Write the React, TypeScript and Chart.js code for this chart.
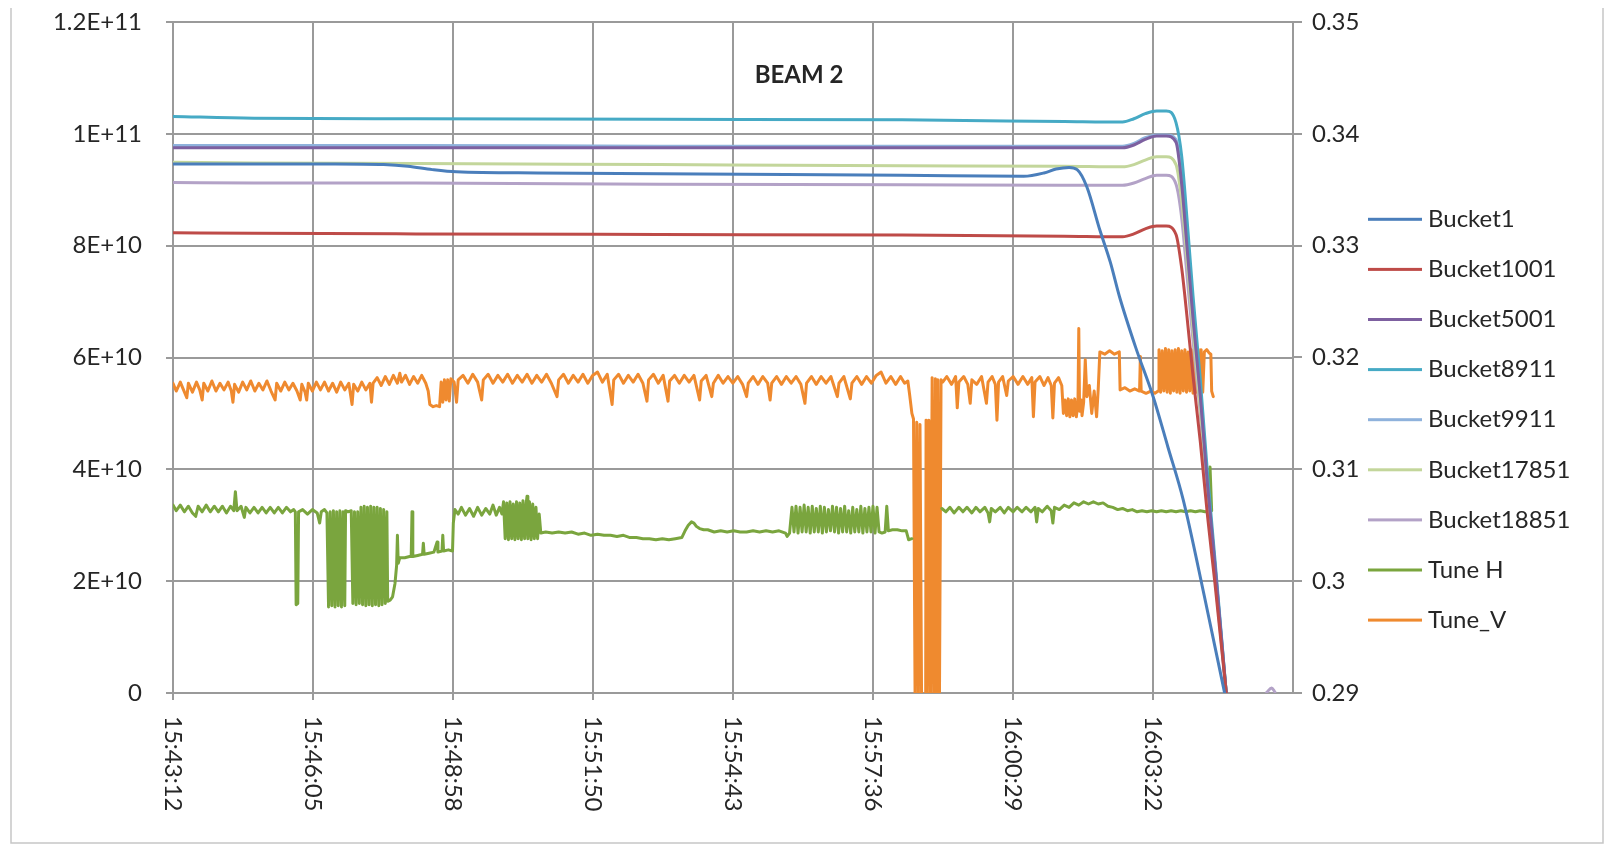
import React, { useEffect, useRef } from 'react';
import { Chart, registerables } from 'chart.js';

Chart.register(...registerables);

// ---------- texts ----------
const chartTitle = 'BEAM 2';
const seriesNames = ['Bucket1', 'Bucket1001', 'Bucket5001', 'Bucket8911', 'Bucket9911', 'Bucket17851', 'Bucket18851', 'Tune H', 'Tune_V'];
const seriesColors = ['#4A7EBB', '#BE4B48', '#7D60A0', '#46AAC5', '#8FB2DC', '#C3D69B', '#B3A2C7', '#7AA53E', '#EF8A2F'];

// x axis: seconds after 15:43:12
const xTickSeconds = [0, 172.8, 345.6, 518.4, 691.2, 864, 1036.8, 1209.6];
const xTickLabels = ['15:43:12', '15:46:05', '15:48:58', '15:51:50', '15:54:43', '15:57:36', '16:00:29', '16:03:22'];
const xMaxSeconds = 1382.4;

const leftTicks = [0, 2e10, 4e10, 6e10, 8e10, 1e11, 1.2e11];
const leftTickLabels = ['0', '2E+10', '4E+10', '6E+10', '8E+10', '1E+11', '1.2E+11'];
const rightTicks = [0.29, 0.3, 0.31, 0.32, 0.33, 0.34, 0.35];
const rightTickLabels = ['0.29', '0.3', '0.31', '0.32', '0.33', '0.34', '0.35'];

// ---------- bucket intensities (units of 1E+10) ----------
const bucket1: number[][] = [
  [0, 9.46], [100, 9.46], [200, 9.46], [260, 9.45], [290, 9.42], [320, 9.36], [350, 9.32], [450, 9.30],
  [650, 9.28], [900, 9.26], [1050, 9.24], [1075, 9.30], [1090, 9.37], [1106, 9.40], [1116, 9.36],
  [1128, 9.05], [1144, 8.28], [1157, 7.7], [1168, 7.1], [1188, 6.19], [1210, 5.29], [1228, 4.4],
  [1247, 3.45], [1273, 1.73], [1298, 0],
];
const bucketTimes = [0, 100, 300, 600, 900, 1100, 1172, 1186, 1200, 1214, 1226, 1238, 1245, 1252, 1259, 1268, 1277, 1286, 1300];
const bucket1001 = [8.23, 8.22, 8.21, 8.20, 8.19, 8.17, 8.16, 8.21, 8.30, 8.35, 8.35, 8.20, 7.60, 6.67, 5.67, 4.49, 3.15, 1.97, 0];
const bucket5001 = [9.75, 9.75, 9.75, 9.75, 9.75, 9.75, 9.75, 9.80, 9.90, 9.96, 9.96, 9.85, 9.10, 7.90, 6.70, 5.30, 3.70, 2.30, 0];
const bucket8911 = [10.31, 10.28, 10.27, 10.26, 10.25, 10.22, 10.21, 10.27, 10.36, 10.41, 10.41, 10.20, 9.60, 8.40, 7.10, 5.60, 3.90, 2.40, 0];
const bucket9911 = [9.79, 9.79, 9.79, 9.78, 9.78, 9.78, 9.78, 9.83, 9.93, 9.98, 9.98, 9.90, 9.20, 8.00, 6.80, 5.35, 3.75, 2.30, 0];
const bucket17851 = [9.49, 9.48, 9.47, 9.45, 9.43, 9.42, 9.41, 9.45, 9.53, 9.59, 9.59, 9.45, 8.80, 7.70, 6.50, 5.10, 3.60, 2.20, 0];
const bucket18851 = [9.13, 9.12, 9.12, 9.10, 9.09, 9.08, 9.08, 9.12, 9.20, 9.26, 9.26, 9.10, 8.50, 7.40, 6.30, 5.00, 3.50, 2.10, 0];
// small late blip of Bucket18851 after the dump [seconds, value]
const bucket18851Tail: (number | null)[][] = [[1325, null], [1350, 0.01], [1356, 0.09], [1360, 0.02]];
const BUCKET_UNIT = 1e10;

// ---------- tunes [seconds, tune] ----------
const tuneH: (number | null)[][] = [
  [0, 0.3068], [4, 0.3063], [9, 0.3068], [14, 0.3062], [19, 0.3067], [24, 0.3061], [28, 0.3058], [31, 0.3067], [36, 0.3062],
  [41, 0.3068], [46, 0.3062], [51, 0.3067], [56, 0.3062], [61, 0.3067], [66, 0.3061], [71, 0.3067], [75, 0.3063], [77, 0.3080],
  [79, 0.3063], [84, 0.3067], [88, 0.3057], [90, 0.3066], [95, 0.3061], [100, 0.3066], [105, 0.3061], [110, 0.3066], [115, 0.3061],
  [120, 0.3066], [125, 0.3061], [130, 0.3066], [135, 0.3061], [140, 0.3066], [145, 0.3062], [149, 0.3064],
  [151, 0.3062], [152, 0.2979], [154, 0.2980], [155, 0.3062],
  [160, 0.3064], [166, 0.3060], [172, 0.3064], [178, 0.3061], [181, 0.3052], [183, 0.3062], [187, 0.3064], [190, 0.3061],
  [192, 0.2977], [194, 0.3062], [196, 0.2978], [198, 0.3063], [200, 0.2977], [202, 0.3062], [204, 0.2978], [206, 0.3063],
  [208, 0.2977], [210, 0.3062], [212, 0.2978], [213, 0.3063], [216, 0.3062], [220, 0.3063],
  [222, 0.2980], [224, 0.3062], [226, 0.2979], [228, 0.3062], [230, 0.2980],
  [232, 0.3066], [234, 0.2979], [236, 0.3067], [238, 0.2978], [240, 0.3066], [242, 0.2979], [244, 0.3067], [246, 0.2978],
  [248, 0.3066], [250, 0.2979], [252, 0.3066], [254, 0.2978], [256, 0.3065], [258, 0.2979], [260, 0.3064], [262, 0.2980],
  [264, 0.3062], [265, 0.2982],
  [268, 0.2983], [271, 0.2986], [274, 0.2998], [276, 0.3014], [277, 0.3041], [278, 0.3016], [280, 0.3021], [286, 0.3021],
  [292, 0.3022], [294, 0.3022], [295, 0.3062], [296, 0.3022], [302, 0.3023], [308, 0.3024], [309, 0.3034], [310, 0.3024],
  [316, 0.3025], [322, 0.3026], [326, 0.3035], [327, 0.3026], [332, 0.3027], [333, 0.3041], [334, 0.3027], [340, 0.3028],
  [345, 0.3027], [346, 0.3052], [348, 0.3064],
  [352, 0.3060], [356, 0.3066], [361, 0.3059], [366, 0.3065], [371, 0.3058], [376, 0.3066], [381, 0.3059], [386, 0.3065],
  [391, 0.3060], [395, 0.3068], [399, 0.3059], [403, 0.3066], [406, 0.3060],
  [408, 0.3071], [410, 0.3038], [412, 0.3070], [414, 0.3037], [416, 0.3071], [418, 0.3038], [420, 0.3069], [422, 0.3037],
  [424, 0.3071], [426, 0.3038], [428, 0.3070], [430, 0.3037], [432, 0.3072], [434, 0.3038], [436, 0.3070], [437, 0.3076],
  [438, 0.3038], [440, 0.3071], [442, 0.3037], [444, 0.3069], [446, 0.3038], [448, 0.3066], [450, 0.3038], [452, 0.3060],
  [454, 0.3043],
  [460, 0.3044], [468, 0.3043], [476, 0.3044], [484, 0.3043], [492, 0.3044], [500, 0.3042], [508, 0.3043], [516, 0.3041],
  [524, 0.3042], [532, 0.3041], [540, 0.3041], [548, 0.3040], [556, 0.3041], [564, 0.3039], [572, 0.3039], [580, 0.3038],
  [588, 0.3038], [596, 0.3037], [604, 0.3038], [612, 0.3037], [620, 0.3038], [628, 0.3039],
  [632, 0.3045], [636, 0.3050], [640, 0.3053], [643, 0.3052], [646, 0.3049], [650, 0.3047], [655, 0.3046], [660, 0.3046],
  [668, 0.3044], [676, 0.3045], [684, 0.3044], [692, 0.3045], [700, 0.3044], [708, 0.3044], [716, 0.3045], [724, 0.3044],
  [732, 0.3045], [740, 0.3044], [748, 0.3045], [756, 0.3043], [758, 0.3040], [761, 0.3043],
  [764, 0.3066], [766.5, 0.3044], [769, 0.3067], [771.5, 0.3043], [774, 0.3066], [776.5, 0.3044], [779, 0.3068], [781.5, 0.3044],
  [784, 0.3066], [786.5, 0.3043], [789, 0.3067], [791.5, 0.3044], [794, 0.3065], [796.5, 0.3044], [799, 0.3067], [801.5, 0.3043],
  [804, 0.3066], [806.5, 0.3044], [809, 0.3064], [811.5, 0.3045], [814, 0.3067], [816.5, 0.3044], [819, 0.3066], [821.5, 0.3043],
  [824, 0.3065], [826.5, 0.3044], [829, 0.3067], [831.5, 0.3044], [834, 0.3063], [836.5, 0.3043], [839, 0.3066], [841.5, 0.3044],
  [844, 0.3064], [846.5, 0.3044], [849, 0.3067], [851.5, 0.3043], [854, 0.3065], [856.5, 0.3044], [859, 0.3066], [861.5, 0.3044],
  [864, 0.3067], [866.5, 0.3043], [869, 0.3066], [871.5, 0.3044],
  [875, 0.3043], [879, 0.3044], [881, 0.3067], [883, 0.3045], [888, 0.3046], [894, 0.3046], [900, 0.3045], [905, 0.3045],
  [908, 0.3037], [912, 0.3038],
  [930, null],
  [949, 0.3065], [954, 0.3062], [959, 0.3066], [964, 0.3061], [970, 0.3066], [975, 0.3062], [980, 0.3066], [986, 0.3061],
  [991, 0.3066], [996, 0.3062], [1002, 0.3066], [1006, 0.3061], [1008, 0.3053], [1010, 0.3065], [1015, 0.3062], [1021, 0.3066],
  [1026, 0.3061], [1031, 0.3066], [1037, 0.3062], [1042, 0.3066], [1048, 0.3062], [1053, 0.3066], [1059, 0.3062], [1064, 0.3066],
  [1066, 0.3053], [1068, 0.3065], [1073, 0.3062], [1079, 0.3067], [1084, 0.3063], [1086, 0.3052], [1088, 0.3066], [1094, 0.3064],
  [1100, 0.3068], [1106, 0.3066], [1112, 0.3070], [1118, 0.3068], [1124, 0.3071], [1130, 0.3069], [1136, 0.3071], [1142, 0.3069],
  [1148, 0.3070], [1154, 0.3067], [1160, 0.3066], [1166, 0.3064], [1172, 0.3065], [1178, 0.3063], [1184, 0.3064], [1190, 0.3062],
  [1196, 0.3063], [1202, 0.3062], [1208, 0.3063], [1214, 0.3062], [1220, 0.3063], [1226, 0.3062], [1232, 0.3063], [1238, 0.3062],
  [1244, 0.3063], [1250, 0.3062], [1256, 0.3063], [1262, 0.3062], [1268, 0.3063], [1274, 0.3062], [1278, 0.3063], [1280, 0.3102],
  [1282, 0.3063],
];

const tuneV: number[][] = [
  [0, 0.3177], [4, 0.3170], [9, 0.3178], [13, 0.3171], [17, 0.3164], [19, 0.3177], [24, 0.3169], [29, 0.3178], [33, 0.3171],
  [36, 0.3162], [38, 0.3177], [43, 0.3170], [48, 0.3179], [53, 0.3170], [58, 0.3177], [63, 0.3171], [68, 0.3178], [72, 0.3170],
  [74, 0.3160], [76, 0.3176], [81, 0.3169], [86, 0.3178], [91, 0.3171], [96, 0.3179], [101, 0.3170], [106, 0.3177], [111, 0.3171],
  [116, 0.3179], [121, 0.3170], [126, 0.3162], [128, 0.3177], [133, 0.3170], [138, 0.3178], [143, 0.3171], [148, 0.3177],
  [153, 0.3170], [157, 0.3162], [159, 0.3176], [163, 0.3169], [165, 0.3162], [167, 0.3177], [172, 0.3170], [177, 0.3178],
  [182, 0.3171], [187, 0.3178], [192, 0.3170], [197, 0.3177], [202, 0.3169], [207, 0.3178], [212, 0.3171], [217, 0.3177],
  [221, 0.3158], [223, 0.3176], [228, 0.3170], [233, 0.3178], [238, 0.3171], [243, 0.3177], [245, 0.3160], [247, 0.3177],
  [252, 0.3182], [257, 0.3175], [262, 0.3183], [267, 0.3176], [272, 0.3184], [277, 0.3177], [280, 0.3186], [282, 0.3178],
  [287, 0.3184], [292, 0.3176], [297, 0.3183], [302, 0.3177], [307, 0.3184], [312, 0.3177],
  [315, 0.3170], [317, 0.3158], [321, 0.3156], [325, 0.3157], [329, 0.3156], [331, 0.3178], [333, 0.3160], [335, 0.3180],
  [337, 0.3162], [339, 0.3180], [341, 0.3161], [343, 0.3181],
  [347, 0.3178], [350, 0.3160], [352, 0.3180], [358, 0.3184], [364, 0.3177], [370, 0.3185], [376, 0.3178], [381, 0.3162],
  [383, 0.3180], [389, 0.3185], [395, 0.3177], [401, 0.3184], [407, 0.3178], [413, 0.3185], [419, 0.3177], [425, 0.3184],
  [431, 0.3178], [437, 0.3185], [443, 0.3177], [449, 0.3184], [455, 0.3178], [461, 0.3185], [467, 0.3177], [474, 0.3165],
  [476, 0.3180], [482, 0.3185], [488, 0.3177], [494, 0.3184], [500, 0.3178], [506, 0.3185], [512, 0.3177], [518, 0.3184],
  [524, 0.3187], [530, 0.3178], [536, 0.3185], [542, 0.3158], [544, 0.3180], [550, 0.3185], [556, 0.3177], [562, 0.3184],
  [568, 0.3178], [574, 0.3185], [580, 0.3177], [585, 0.3161], [587, 0.3180], [593, 0.3185], [599, 0.3177], [605, 0.3184],
  [611, 0.3161], [613, 0.3179], [619, 0.3184], [625, 0.3177], [631, 0.3184], [637, 0.3178], [643, 0.3184], [650, 0.3162],
  [652, 0.3179], [658, 0.3184], [665, 0.3165], [667, 0.3177], [673, 0.3184], [679, 0.3177], [685, 0.3183], [691, 0.3177],
  [697, 0.3183], [703, 0.3176], [708, 0.3165], [710, 0.3177], [716, 0.3183], [722, 0.3176], [728, 0.3183], [734, 0.3177],
  [737, 0.3162], [739, 0.3177], [745, 0.3183], [751, 0.3176], [757, 0.3183], [763, 0.3177], [769, 0.3183], [775, 0.3176],
  [780, 0.3159], [782, 0.3177], [788, 0.3183], [794, 0.3176], [800, 0.3183], [806, 0.3177], [812, 0.3183], [820, 0.3165],
  [822, 0.3177], [828, 0.3183], [836, 0.3163], [838, 0.3177], [844, 0.3183], [850, 0.3176], [856, 0.3183], [862, 0.3177],
  [868, 0.3184], [874, 0.3187], [880, 0.3177], [886, 0.3183], [892, 0.3176], [898, 0.3183], [903, 0.3177], [907, 0.3179],
  [909, 0.3168], [912, 0.3150], [914, 0.3145], [916, 0.289], [918, 0.3142], [920, 0.289], [922, 0.3140], [924, 0.289],
  [929, 0.289], [929.5, 0.3144], [931, 0.289], [933, 0.3144], [935, 0.289], [937, 0.3182], [939, 0.289], [941, 0.3181],
  [942.5, 0.289], [944, 0.3180], [946, 0.289], [948, 0.3180], [950, 0.3178],
  [955, 0.3183], [961, 0.3176], [966, 0.3183], [968, 0.3155], [970, 0.3178], [976, 0.3183], [981, 0.3176], [984, 0.3159],
  [986, 0.3180], [992, 0.3176], [998, 0.3183], [1004, 0.3159], [1006, 0.3178], [1011, 0.3183], [1015, 0.3176], [1017, 0.3144],
  [1019, 0.3178], [1024, 0.3183], [1029, 0.3166], [1031, 0.3179], [1037, 0.3183], [1043, 0.3176], [1049, 0.3183], [1055, 0.3176],
  [1060, 0.3182], [1062, 0.3147], [1064, 0.3178], [1070, 0.3183], [1075, 0.3175], [1080, 0.3182], [1084, 0.3175], [1086, 0.3146],
  [1088, 0.3177], [1093, 0.3182], [1097, 0.3175], [1099, 0.3150],
  [1101, 0.3162], [1103, 0.3148], [1105, 0.3163], [1107, 0.3147], [1109, 0.3162], [1111, 0.3148], [1113, 0.3163], [1115, 0.3147],
  [1117, 0.3160], [1118, 0.3226], [1119, 0.3152], [1121, 0.3162], [1122, 0.3148], [1124, 0.3160],
  [1126, 0.3198], [1128, 0.3165], [1131, 0.3175], [1134, 0.3150], [1137, 0.3170], [1140, 0.3147], [1142, 0.3172], [1144, 0.3205],
  [1150, 0.3203], [1156, 0.3206], [1162, 0.3203], [1168, 0.3205], [1169, 0.3171], [1175, 0.3173], [1181, 0.3170], [1187, 0.3172],
  [1193, 0.3170], [1194, 0.3201], [1195, 0.3170], [1201, 0.3168], [1207, 0.3170], [1212, 0.3168], [1216, 0.3170],
  [1217, 0.3207], [1219, 0.3169], [1221, 0.3206], [1223, 0.3170], [1225, 0.3208], [1227, 0.3169], [1229, 0.3207], [1231, 0.3168],
  [1233, 0.3206], [1235, 0.3170], [1237, 0.3207], [1239, 0.3169], [1241, 0.3208], [1243, 0.3168], [1245, 0.3206], [1247, 0.3170],
  [1249, 0.3207], [1251, 0.3169], [1253, 0.3205], [1255, 0.3170], [1257, 0.3207], [1259, 0.3168], [1261, 0.3206], [1263, 0.3169],
  [1265, 0.3208], [1267, 0.3170], [1269, 0.3207], [1271, 0.3169],
  [1273, 0.3205], [1276, 0.3207], [1279, 0.3204], [1281, 0.3203], [1282, 0.3170], [1284, 0.3165],
];

// ---------- look ----------
const FONT = 'Lato';
const TEXT = '#262626';
const GRID = '#9a9a9a';
const CANVAS_W = 1596;
const CANVAS_H = 838;

const decorPlugin = {
  id: 'decor',
  beforeDraw(chart: any) {
    const ctx = chart.ctx;
    ctx.save();
    ctx.fillStyle = '#ffffff';
    ctx.fillRect(0, 0, chart.width, chart.height);
    ctx.strokeStyle = '#c6c6c6';
    ctx.lineWidth = 1.5;
    ctx.beginPath();
    ctx.moveTo(3, 0);
    ctx.lineTo(3, 835);
    ctx.lineTo(1595, 835);
    ctx.lineTo(1595, 0);
    ctx.stroke();
    ctx.restore();
  },
  afterDraw(chart: any) {
    const { ctx, chartArea, scales } = chart;
    ctx.save();
    ctx.fillStyle = TEXT;
    ctx.font = `24px ${FONT}`;
    ctx.textAlign = 'left';
    ctx.textBaseline = 'middle';
    // rotated time labels (reading top to bottom)
    xTickSeconds.forEach((s, i) => {
      const px = scales.x.getPixelForValue(s);
      ctx.save();
      ctx.translate(px, chartArea.bottom + 23);
      ctx.rotate(Math.PI / 2);
      ctx.fillText(xTickLabels[i], 0, 0);
      ctx.restore();
    });
    // legend
    const legLeft = chartArea.right + 75;
    chart.data.datasets.forEach((ds: any, i: number) => {
      const y = chartArea.top + 197.3 + i * 50.1;
      ctx.fillStyle = ds.borderColor;
      ctx.fillRect(legLeft, y - 1.5, 54, 3);
      ctx.fillStyle = TEXT;
      ctx.fillText(ds.label, legLeft + 60, y);
    });
    // title
    ctx.font = `bold 24px ${FONT}`;
    ctx.textAlign = 'center';
    ctx.fillText(chartTitle, chartArea.left + 626, chartArea.top + 53);
    ctx.restore();
  },
};

export default function App() {
  const canvasRef = useRef<HTMLCanvasElement | null>(null);

  useEffect(() => {
    if (!canvasRef.current) return;

    const bucketSeries = [bucket1001, bucket5001, bucket8911, bucket9911, bucket17851, bucket18851];
    const bucketData: any[][] = [
      bucket1.map(([t, v]) => ({ x: t, y: v * BUCKET_UNIT })),
      ...bucketSeries.map((vals) => vals.map((v, i) => ({ x: bucketTimes[i], y: v * BUCKET_UNIT }))),
    ];
    bucketData[6] = bucketData[6].concat(
      bucket18851Tail.map(([t, v]) => ({ x: t, y: v === null ? null : (v as number) * BUCKET_UNIT })),
    );

    const datasets: any[] = bucketData.map((data, i) => ({
      label: seriesNames[i],
      data,
      yAxisID: 'y',
      borderColor: seriesColors[i],
      backgroundColor: seriesColors[i],
      borderWidth: 3,
      pointRadius: 0,
      fill: false,
      spanGaps: false,
      cubicInterpolationMode: 'monotone',
      borderJoinStyle: 'round',
      borderCapStyle: 'round',
    }));
    [tuneH, tuneV].forEach((arr, k) => {
      const i = 7 + k;
      datasets.push({
        label: seriesNames[i],
        data: arr.map(([t, v]) => ({ x: t, y: v })),
        yAxisID: 'y1',
        borderColor: seriesColors[i],
        backgroundColor: seriesColors[i],
        borderWidth: 3,
        pointRadius: 0,
        fill: false,
        tension: 0,
        spanGaps: false,
        borderJoinStyle: 'round',
        borderCapStyle: 'round',
      });
    });

    const tickFont = { family: FONT, size: 24, lineHeight: 1 };
    const noPad = (ax: any) => {
      ax.paddingTop = 0;
      ax.paddingBottom = 0;
    };

    const chart = new Chart(canvasRef.current, {
      type: 'line',
      data: { datasets },
      options: {
        animation: false,
        responsive: true,
        maintainAspectRatio: false,
        devicePixelRatio: 1,
        layout: { padding: { top: 14, left: 0, right: CANVAS_W - 1285 - 72, bottom: 0 } },
        plugins: {
          tooltip: { enabled: false },
          title: { display: false },
          legend: { display: false },
        },
        scales: {
          x: {
            type: 'linear',
            min: 0,
            max: xMaxSeconds,
            afterBuildTicks: (ax: any) => {
              ax.ticks = xTickSeconds.map((v) => ({ value: v }));
            },
            ticks: { display: false },
            grid: { color: GRID, lineWidth: 2, tickLength: 7, drawTicks: true },
            border: { color: GRID, width: 2 },
            afterFit: (ax: any) => {
              ax.height = CANVAS_H - 685;
              ax.paddingLeft = 0;
              ax.paddingRight = 0;
            },
          },
          y: {
            type: 'linear',
            position: 'left',
            min: 0,
            max: 1.2e11,
            afterBuildTicks: (ax: any) => {
              ax.ticks = leftTicks.map((v) => ({ value: v }));
            },
            ticks: {
              callback: (_v: any, i: number) => leftTickLabels[i],
              font: tickFont,
              color: TEXT,
              padding: 24,
              autoSkip: false,
            },
            grid: { color: GRID, lineWidth: 2, tickLength: 7 },
            border: { color: GRID, width: 2 },
            afterFit: (ax: any) => {
              ax.width = 165;
              noPad(ax);
            },
          },
          y1: {
            type: 'linear',
            position: 'right',
            min: 0.29,
            max: 0.35,
            afterBuildTicks: (ax: any) => {
              ax.ticks = rightTicks.map((v) => ({ value: v }));
            },
            ticks: {
              callback: (_v: any, i: number) => rightTickLabels[i],
              font: tickFont,
              color: TEXT,
              padding: 10,
              autoSkip: false,
            },
            grid: { drawOnChartArea: false, color: GRID, lineWidth: 2, tickLength: 9 },
            border: { color: GRID, width: 2 },
            afterFit: (ax: any) => {
              ax.width = 72;
              noPad(ax);
            },
          },
        },
      } as any,
      plugins: [decorPlugin],
    });

    return () => chart.destroy();
  }, []);

  return (
    <div style={{ position: 'relative', width: CANVAS_W, height: CANVAS_H }}>
      <canvas ref={canvasRef} />
    </div>
  );
}
